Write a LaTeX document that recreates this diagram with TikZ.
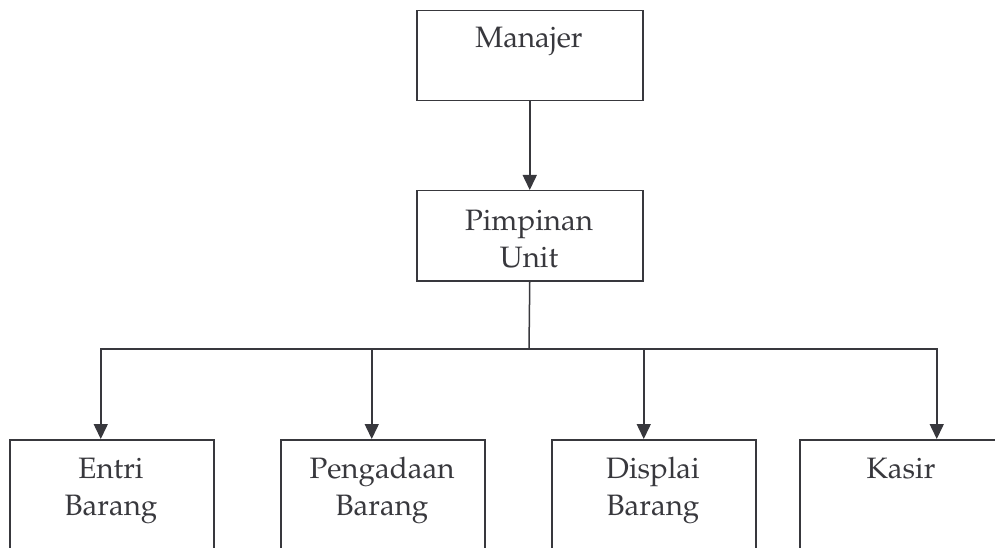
\documentclass[tikz,border=0pt]{standalone}
\usepackage[T1]{fontenc}
\usepackage{mathpazo}
\usetikzlibrary{arrows.meta}
\definecolor{ink}{rgb}{0.22,0.22,0.24}
\begin{document}
\begin{tikzpicture}[x=1pt,y=-1pt,
  box/.style={draw=ink,line width=1.5pt,rectangle,inner sep=0pt,minimum width=#1,anchor=north west},
  topbox/.style={box=226pt,minimum height=90pt},
  lowbox/.style={box=204pt,minimum height=200pt},
  lbl/.style={anchor=base,inner sep=0pt,text=ink,font=\fontsize{29.5}{37}\selectfont},
  conn/.style={draw=ink,line width=1.5pt},
  arr/.style={conn,-{Triangle[width=14pt,length=15pt]}}]
\useasboundingbox (0,0) rectangle (995,548);
\clip (0,0) rectangle (995,548);
\fill[white] (0,0) rectangle (995,548);
% boxes
\node[topbox] (man) at (416,10) {};
\node[topbox] (pim) at (416,190) {};
\node[lowbox] (ent) at (9,439) {};
\node[lowbox] (pen) at (280,439) {};
\node[lowbox] (dis) at (551,439) {};
\node[lowbox] (kas) at (799,439) {};
% labels
\node[lbl] (tman) at (529,48) {Manajer};
\node[lbl] (tpim1) at (529,230) {Pimpinan};
\node[lbl] (tpim2) at (529,267) {Unit};
\node[lbl] (tent1) at (111,478) {Entri};
\node[lbl] (tent2) at (111,515) {Barang};
\node[lbl] (tpen1) at (382,478) {Pengadaan};
\node[lbl] (tpen2) at (382,515) {Barang};
\node[lbl] (tdis1) at (653,478) {Displai};
\node[lbl] (tdis2) at (653,515) {Barang};
\node[lbl] (tkas) at (901,478) {Kasir};
% connectors
\coordinate (j) at (529,349);
\draw[arr] (man.south) -- (pim.north);
\draw[conn] (pim.south) -- (j);
\draw[arr] (j) -| ([xshift=-11pt]ent.north);
\draw[arr] (j) -| ([xshift=-11pt]pen.north);
\draw[arr] (j) -| ([xshift=-10pt]dis.north);
\draw[arr] (j) -| ([xshift=35pt]kas.north);
\end{tikzpicture}
\end{document}
